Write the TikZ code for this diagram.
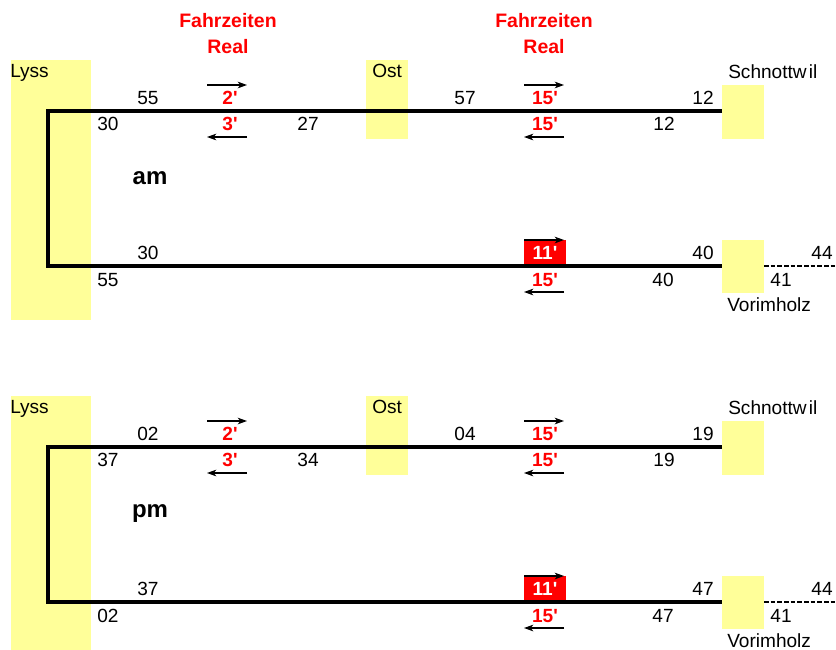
\documentclass[tikz,border=0pt]{standalone}
\usepackage{fontspec}
\setmainfont{Liberation Sans}
\usetikzlibrary{arrows.meta}
\definecolor{stnyellow}{RGB}{255,255,153}
\definecolor{fzred}{RGB}{255,0,0}
\tikzset{
  lbl/.style={inner sep=0pt,font=\fontsize{14.3}{17}\selectfont},
  fz/.style={inner sep=0pt,font=\fontsize{14.3}{17}\selectfont\bfseries,text=fzred},
  hdr/.style={inner sep=0pt,font=\fontsize{14.6}{17}\selectfont\bfseries,text=fzred,anchor=base},
  big/.style={inner sep=0pt,font=\fontsize{18}{20}\selectfont\bfseries},
  track/.style={line width=2.6pt,line join=miter},
  dir/.style={line width=0.9pt,-{Stealth[length=7pt,width=5pt,inset=2pt]}},
  stnbox/.style={fill=stnyellow,draw=none},
}
\newcommand{\mn}[1]{#1\textquotesingle}
\newcommand{\fzblock}[9]{%
\begin{scope}[shift={(0,#2)}]
  \fill[stnbox] (11,60) rectangle (91,320);
  \fill[stnbox] (366,60) rectangle (408,139);
  \fill[stnbox] (722,85) rectangle (764,139);
  \fill[stnbox] (722,240) rectangle (764,293);
  \node[lbl,anchor=base west] (#1lyss) at (10,77) {Lyss};
  \node[lbl,anchor=base west] (#1ost) at (372,77) {Ost};
  \node[lbl,anchor=base west] (#1schn) at (728,78) {Schnottw\hspace{1.6pt}il};
  \node[lbl,anchor=base west] (#1vor) at (727,311) {Vorimholz};
  % red box
  \fill[fzred] (524,240) rectangle (566,266);
  % track
  \coordinate (#1tr) at (722,111);
  \coordinate (#1tl) at (48,111);
  \coordinate (#1bl) at (48,266);
  \coordinate (#1br) at (722,266);
  \draw[track] (#1tr) -- (#1tl) -- (#1bl) -- (#1br);
  \coordinate (#1d1) at (764,266);
  \coordinate (#1d2) at (836,266);
  \draw[line width=0.8pt,dash pattern=on 3.5pt off 1.5pt] (#1d1) -- (#1d2);
  % arrows
  \coordinate (#1a1s) at (207,85);  \coordinate (#1a1e) at (247,85);
  \coordinate (#1a2s) at (247,137); \coordinate (#1a2e) at (207,137);
  \coordinate (#1a3s) at (524,85);  \coordinate (#1a3e) at (564,85);
  \coordinate (#1a4s) at (564,137); \coordinate (#1a4e) at (524,137);
  \coordinate (#1a5s) at (524,240); \coordinate (#1a5e) at (564,240);
  \coordinate (#1a6s) at (564,292); \coordinate (#1a6e) at (524,292);
  \draw[dir] (#1a1s) -- (#1a1e);
  \draw[dir] (#1a2s) -- (#1a2e);
  \draw[dir] (#1a3s) -- (#1a3e);
  \draw[dir] (#1a4s) -- (#1a4e);
  \draw[dir] (#1a5s) -- (#1a5e);
  \draw[dir] (#1a6s) -- (#1a6e);
  % travel times
  \node[fz] (#1t1) at (230,98) {\mn{2}};
  \node[fz] (#1t2) at (230,124) {\mn{3}};
  \node[fz] (#1t3) at (545,98) {\mn{15}};
  \node[fz] (#1t4) at (545,124) {\mn{15}};
  \node[fz,text=white] (#1t5) at (545,253) {\mn{11}};
  \node[fz] (#1t6) at (545,280) {\mn{15}};
  % times
  \node[lbl] (#1n1) at (148,98) {#3};
  \node[lbl] (#1n2) at (108,124) {#4};
  \node[lbl] (#1n3) at (308,124) {#5};
  \node[lbl] (#1n4) at (465,98) {#6};
  \node[lbl] (#1n5) at (703,98) {#7};
  \node[lbl] (#1n6) at (664,124) {#7};
  \node[lbl] (#1n7) at (148,253) {#4};
  \node[lbl] (#1n8) at (108,280) {#3};
  \node[lbl] (#1n9) at (703,253) {#9};
  \node[lbl] (#1n10) at (663,280) {#9};
  \node[lbl] (#1n11) at (822,253) {44};
  \node[lbl] (#1n12) at (781,280) {41};
  \node[big] (#1label) at (150,178) {#8};
\end{scope}}
\begin{document}
\begin{tikzpicture}[x=0.75pt,y=-0.75pt]
  \useasboundingbox (0,0) rectangle (836,650);
  \node[hdr] (h1a) at (228,27) {Fahrzeiten};
  \node[hdr] (h1b) at (228,53) {Real};
  \node[hdr] (h2a) at (544,27) {Fahrzeiten};
  \node[hdr] (h2b) at (544,53) {Real};
  \fzblock{am}{0}{55}{30}{27}{57}{12}{am}{40}
  \fzblock{pm}{336}{02}{37}{34}{04}{19}{pm}{47}
\end{tikzpicture}
\end{document}
